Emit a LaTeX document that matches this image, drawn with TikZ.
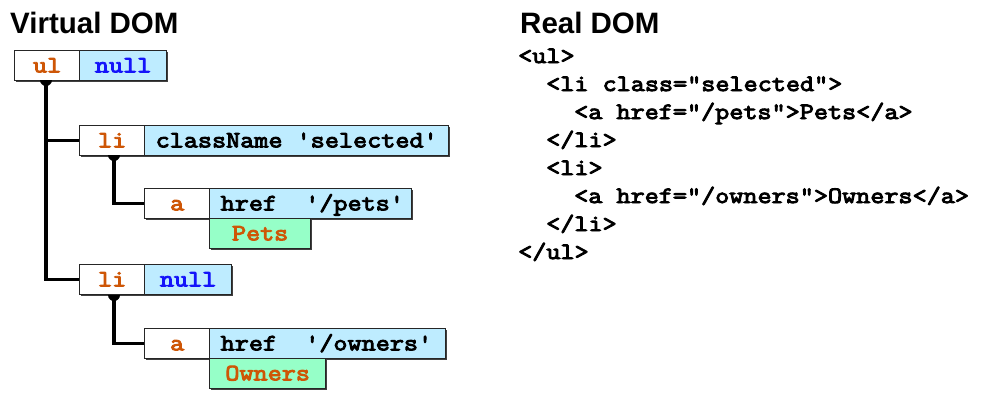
\documentclass[tikz,border=0pt]{standalone}
\usepackage{fontspec}
\setmainfont{Liberation Sans}
\newfontfamily\courfont{Latin Modern Mono}[FakeBold=4, FakeStretch=1.17]
\usetikzlibrary{shadows,calc}
\definecolor{tagorange}{RGB}{206,86,6}
\definecolor{nullblue}{RGB}{20,20,250}
\definecolor{attrblue}{RGB}{190,236,255}
\definecolor{textgreen}{RGB}{150,255,200}
\tikzset{
  boxbase/.style={draw=black!85, line width=1.3pt, anchor=north west, minimum height=30pt,
    inner ysep=0pt, text height=16pt, text depth=2.6pt,
    font=\fontsize{23.4}{28}\selectfont\courfont,
    drop shadow={shadow xshift=1.4pt, shadow yshift=-1.4pt, fill=black!75, opacity=1}},
  tagbox/.style={boxbase, fill=white, text=tagorange, minimum width=65pt, inner xsep=0pt},
  nullbox/.style={boxbase, fill=attrblue, text=nullblue, minimum width=87pt, inner xsep=0pt},
  attrbox/.style={boxbase, fill=attrblue, text=black, inner xsep=11pt},
  txtbox/.style={boxbase, fill=textgreen, text=tagorange, inner xsep=0pt},
  treeline/.style={line width=3.2pt, black, line join=miter},
  title/.style={anchor=base west, inner sep=0pt, font=\fontsize{29.5}{34}\selectfont\bfseries},
  codeline/.style={anchor=base west, inner sep=0pt, font=\fontsize{23.4}{28}\selectfont\courfont}
}
\newcommand{\attrtext}[2]{\makebox[#1][l]{#2}}
\begin{document}
\begin{tikzpicture}[x=1pt,y=-1pt]
\useasboundingbox (0,0) rectangle (995,408);

% titles
\node[title] (vt) at (10,33) {Virtual DOM};
\node[title] (rt) at (520,33) {Real DOM};

% real DOM code
\node[codeline] (r1) at (518,63) {<ul>};
\node[codeline] (r2) at (546,91) {<li class="selected">};
\node[codeline] (r3) at (574,119) {<a href="/pets">Pets</a>};
\node[codeline] (r4) at (546,147) {</li>};
\node[codeline] (r5) at (546,175) {<li>};
\node[codeline] (r6) at (574,203) {<a href="/owners">Owners</a>};
\node[codeline] (r7) at (546,231) {</li>};
\node[codeline] (r8) at (518,259) {</ul>};

% junction points
\coordinate (ulj) at (46,80);
\coordinate (li1j) at (114,155);
\coordinate (li2j) at (114,295);

% virtual DOM boxes
\node[tagbox] (ul) at (14,50) {ul};
\node[nullbox] (ulnull) at (79,50) {null};

\node[tagbox] (li1) at (79,125) {li};
\node[attrbox] (li1attr) at (144,125) {\attrtext{282pt}{className 'selected'}};

\node[tagbox] (a1) at (144,188) {a};
\node[attrbox] (a1attr) at (209,188) {\attrtext{180pt}{href\ \ '/pets'}};
\node[txtbox, minimum width=101pt] (a1txt) at (209,218) {Pets};

\node[tagbox] (li2) at (79,264) {li};
\node[nullbox] (li2null) at (144,264) {null};

\node[tagbox] (a2) at (144,328) {a};
\node[attrbox] (a2attr) at (209,328) {\attrtext{214pt}{href\ \ '/owners'}};
\node[txtbox, minimum width=116pt] (a2txt) at (209,358) {Owners};

% connectors
\draw[treeline] (ulj) -- (ulj |- li2.west) -- (li2.west);
\draw[treeline] (ulj |- li1.west) -- (li1.west);
\draw[treeline] (li1j) -- (li1j |- a1.west) -- (a1.west);
\draw[treeline] (li2j) -- (li2j |- a2.west) -- (a2.west);

% attachment dots
\fill (ulj) ++(-6pt,0pt) arc[start angle=180, end angle=360, radius=6pt] -- cycle;
\fill (li1j) ++(-6pt,0pt) arc[start angle=180, end angle=360, radius=6pt] -- cycle;
\fill (li2j) ++(-6pt,0pt) arc[start angle=180, end angle=360, radius=6pt] -- cycle;
\end{tikzpicture}
\end{document}
